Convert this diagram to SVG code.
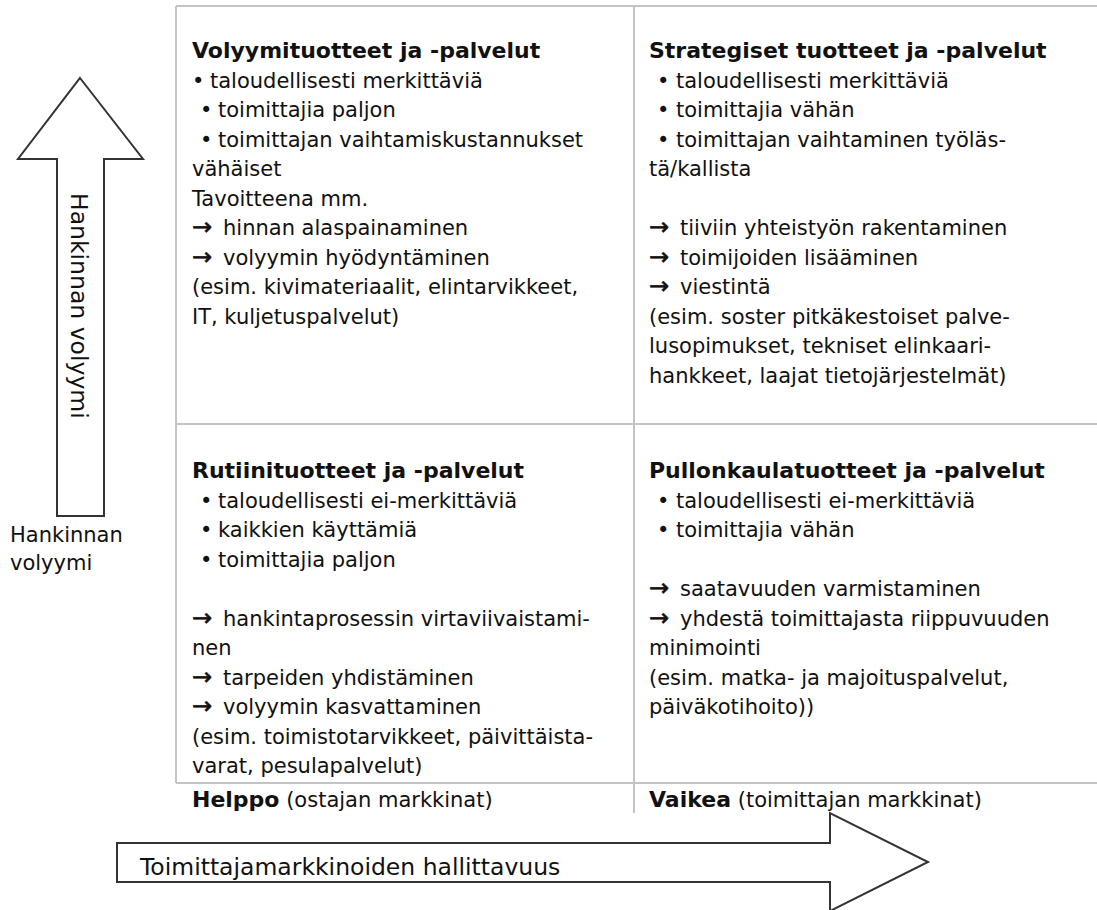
<svg xmlns="http://www.w3.org/2000/svg" width="1097" height="910" viewBox="0 0 1097 910">
<style>
  text { font-family: "DejaVu Sans", Verdana, "Liberation Sans", sans-serif; font-size: 21px; fill: #111111; }
  .b { font-weight: bold; font-size: 22px; }
  .ar { font-size: 24px; stroke: #111111; stroke-width: 0.6; }
  .grid line { stroke: #c4c4c4; stroke-width: 2; }
  .blk { fill: #ffffff; stroke: #333333; stroke-width: 2; stroke-linejoin: miter; }
  .ax { font-size: 23.5px; }
</style>
<rect width="1097" height="910" fill="#ffffff"/>

<g id="grid" class="grid">
  <line x1="176" y1="6" x2="1097" y2="6"/>
  <line x1="176" y1="6" x2="176" y2="783"/>
  <line x1="634" y1="6" x2="634" y2="813"/>
  <line x1="176" y1="424" x2="1097" y2="424"/>
  <line x1="176" y1="783" x2="1097" y2="783"/>
</g>

<g id="axis-y">
  <polygon class="blk" points="80,78 143,159 104,159 104,516 57,516 57,159 18,159"/>
  <text class="ax" transform="translate(71,193) rotate(90)">Hankinnan volyymi</text>
  <text x="10" y="542">Hankinnan</text>
  <text x="10" y="570">volyymi</text>
</g>

<g id="axis-x">
  <polygon class="blk" points="117,843 830,843 830,813 928,862 830,911 830,882 117,882"/>
  <text class="ax" x="140" y="875">Toimittajamarkkinoiden hallittavuus</text>
</g>

<g id="q-volyymi">
  <text class="b" x="192" y="58">Volyymituotteet ja -palvelut</text>
  <text x="192" y="87.5">•</text><text x="210" y="87.5">taloudellisesti merkittäviä</text>
  <text x="200" y="117">•</text><text x="218" y="117">toimittajia paljon</text>
  <text x="200" y="146.5">•</text><text x="218" y="146.5">toimittajan vaihtamiskustannukset</text>
  <text x="192" y="176">vähäiset</text>
  <text x="192" y="205.5">Tavoitteena mm.</text>
  <text class="ar" x="192" y="235">→</text><text x="223" y="235">hinnan alaspainaminen</text>
  <text class="ar" x="192" y="264.5">→</text><text x="223" y="264.5">volyymin hyödyntäminen</text>
  <text x="192" y="294">(esim. kivimateriaalit, elintarvikkeet,</text>
  <text x="192" y="323.5">IT, kuljetuspalvelut)</text>
</g>

<g id="q-strategiset">
  <text class="b" x="649" y="58">Strategiset tuotteet ja -palvelut</text>
  <text x="657" y="87.5">•</text><text x="676" y="87.5">taloudellisesti merkittäviä</text>
  <text x="657" y="117">•</text><text x="676" y="117">toimittajia vähän</text>
  <text x="657" y="146.5">•</text><text x="676" y="146.5">toimittajan vaihtaminen työläs-</text>
  <text x="649" y="176">tä/kallista</text>
  <text class="ar" x="649" y="235">→</text><text x="680" y="235">tiiviin yhteistyön rakentaminen</text>
  <text class="ar" x="649" y="264.5">→</text><text x="680" y="264.5">toimijoiden lisääminen</text>
  <text class="ar" x="649" y="294">→</text><text x="680" y="294">viestintä</text>
  <text x="649" y="323.5">(esim. soster pitkäkestoiset palve-</text>
  <text x="649" y="353">lusopimukset, tekniset elinkaari-</text>
  <text x="649" y="382.5">hankkeet, laajat tietojärjestelmät)</text>
</g>

<g id="q-rutiini">
  <text class="b" x="192" y="478">Rutiinituotteet ja -palvelut</text>
  <text x="200" y="507.5">•</text><text x="218" y="507.5">taloudellisesti ei-merkittäviä</text>
  <text x="200" y="537">•</text><text x="218" y="537">kaikkien käyttämiä</text>
  <text x="200" y="566.5">•</text><text x="218" y="566.5">toimittajia paljon</text>
  <text class="ar" x="192" y="625.5">→</text><text x="223" y="625.5">hankintaprosessin virtaviivaistami-</text>
  <text x="192" y="655">nen</text>
  <text class="ar" x="192" y="684.5">→</text><text x="223" y="684.5">tarpeiden yhdistäminen</text>
  <text class="ar" x="192" y="714">→</text><text x="223" y="714">volyymin kasvattaminen</text>
  <text x="192" y="743.5">(esim. toimistotarvikkeet, päivittäista-</text>
  <text x="192" y="773">varat, pesulapalvelut)</text>
  <text x="192" y="807"><tspan class="b">Helppo</tspan> (ostajan markkinat)</text>
</g>

<g id="q-pullonkaula">
  <text class="b" x="649" y="478">Pullonkaulatuotteet ja -palvelut</text>
  <text x="657" y="507.5">•</text><text x="676" y="507.5">taloudellisesti ei-merkittäviä</text>
  <text x="657" y="537">•</text><text x="676" y="537">toimittajia vähän</text>
  <text class="ar" x="649" y="596">→</text><text x="680" y="596">saatavuuden varmistaminen</text>
  <text class="ar" x="649" y="625.5">→</text><text x="680" y="625.5">yhdestä toimittajasta riippuvuuden</text>
  <text x="649" y="655">minimointi</text>
  <text x="649" y="684.5">(esim. matka- ja majoituspalvelut,</text>
  <text x="649" y="714">päiväkotihoito))</text>
  <text x="649" y="807"><tspan class="b">Vaikea</tspan> (toimittajan markkinat)</text>
</g>
</svg>
